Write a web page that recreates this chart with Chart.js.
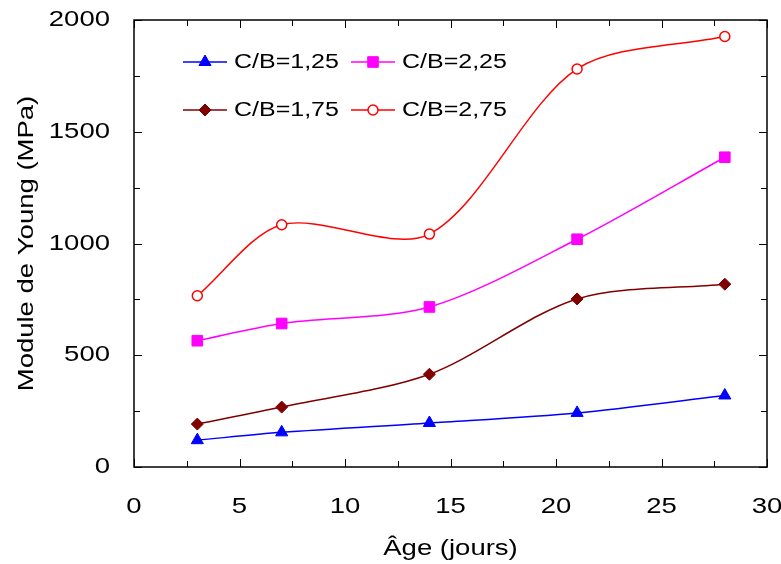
<!DOCTYPE html>
<html lang="fr">
  <head>
    <meta charset="UTF-8" />
    <title>Module de Young</title>
    <script src="https://cdn.jsdelivr.net/npm/chart.js@4.4.0/dist/chart.umd.min.js"></script>
    <style>
      body { margin: 0; background: #fff; }
      #wrap { width: 781px; height: 564px; }
    </style>
  </head>
  <body>
    <div id="wrap"><canvas id="chart" width="781" height="564"></canvas></div>

    <script>
      // ages (jours)
      const ages = [3, 7, 14, 21, 28];
      // module de Young (MPa) per C/B ratio
      const cb125 = [120, 155, 197, 242, 320];
      const cb175 = [192, 268, 415, 752, 818];
      const cb225 = [565, 642, 716, 1019, 1386];
      const cb275 = [766, 1084, 1042, 1781, 1926];

      const xTicks = [0, 5, 10, 15, 20, 25, 30];
      const yTicks = [0, 500, 1000, 1500, 2000];

      const FONT = '"Liberation Sans", Arial, sans-serif';
      const STRETCH = 1.25;

      function pts(vals) {
        return vals.map((v, i) => ({ x: ages[i], y: v }));
      }

      // text is wider than normal Arial in the original, so stretch it a bit
      function wideText(ctx, txt, x, y, align, size, rot) {
        ctx.save();
        ctx.translate(x, y);
        if (rot) ctx.rotate(rot);
        ctx.scale(STRETCH, 1);
        ctx.font = size + 'px ' + FONT;
        ctx.fillStyle = '#000';
        ctx.textAlign = align;
        ctx.textBaseline = 'middle';
        ctx.fillText(txt, 0, 0);
        ctx.restore();
      }

      function marker(ctx, style, x, y, r, color, fill, bw) {
        ctx.save();
        ctx.beginPath();
        if (style === 'triangle') {
          ctx.moveTo(x, y - r);
          ctx.lineTo(x + r * Math.sin(Math.PI * 2 / 3), y + r * 0.5);
          ctx.lineTo(x - r * Math.sin(Math.PI * 2 / 3), y + r * 0.5);
          ctx.closePath();
        } else if (style === 'rect') {
          const s = r * Math.SQRT1_2;
          ctx.rect(x - s, y - s, 2 * s, 2 * s);
        } else if (style === 'rectRot') {
          ctx.moveTo(x, y - r);
          ctx.lineTo(x + r, y);
          ctx.lineTo(x, y + r);
          ctx.lineTo(x - r, y);
          ctx.closePath();
        } else {
          ctx.arc(x, y, r, 0, Math.PI * 2);
        }
        ctx.fillStyle = fill;
        ctx.fill();
        ctx.lineWidth = bw;
        ctx.strokeStyle = color;
        ctx.stroke();
        ctx.restore();
      }

      const frame = {
        id: 'frame',
        beforeDatasetsDraw(chart) {
          const { ctx, chartArea: a, scales } = chart;
          ctx.save();
          ctx.strokeStyle = '#000';
          ctx.lineWidth = 1.5;
          ctx.strokeRect(a.left, a.top, a.right - a.left, a.bottom - a.top);
          ctx.lineWidth = 1;
          ctx.beginPath();
          for (let v = 0; v <= 30; v += 2.5) {
            const px = Math.round(scales.x.getPixelForValue(v)) + 0.5;
            const len = v % 5 === 0 ? 8 : 6;
            ctx.moveTo(px, a.bottom); ctx.lineTo(px, a.bottom - len);
            ctx.moveTo(px, a.top); ctx.lineTo(px, a.top + len);
          }
          for (let v = 0; v <= 2000; v += 250) {
            const py = Math.round(scales.y.getPixelForValue(v)) + 0.5;
            const len = v % 500 === 0 ? 8 : 6;
            ctx.moveTo(a.left, py); ctx.lineTo(a.left + len, py);
            ctx.moveTo(a.right, py); ctx.lineTo(a.right - len, py);
          }
          ctx.stroke();
          ctx.restore();
        },
        afterDraw(chart) {
          const { ctx, chartArea: a, scales } = chart;
          xTicks.forEach(v => wideText(ctx, String(v), scales.x.getPixelForValue(v), a.bottom + 40, 'center', 22));
          yTicks.forEach(v => wideText(ctx, String(v), a.left - 24, scales.y.getPixelForValue(v), 'right', 22));
          wideText(ctx, 'Âge (jours)', (a.left + a.right) / 2, 549, 'center', 22);
          wideText(ctx, 'Module de Young (MPa)', 27, (a.top + a.bottom) / 2, 'center', 22, -Math.PI / 2);

          // legend, 2 x 2 inside the plot
          const cols = [183, 351];
          const rows = [62, 110];
          chart.data.datasets.forEach((ds, i) => {
            const x0 = cols[i % 2], y0 = rows[Math.floor(i / 2)];
            ctx.save();
            ctx.strokeStyle = ds.borderColor;
            ctx.lineWidth = ds.borderWidth;
            ctx.beginPath();
            ctx.moveTo(x0, y0); ctx.lineTo(x0 + 44, y0);
            ctx.stroke();
            ctx.restore();
            marker(ctx, ds.pointStyle, x0 + 22, y0, ds.pointRadius, ds.pointBorderColor, ds.pointBackgroundColor, ds.pointBorderWidth);
            wideText(ctx, ds.label, x0 + 51, y0, 'left', 20);
          });
        }
      };

      function series(label, vals, color, style, r, fill) {
        return {
          label: label,
          data: pts(vals),
          borderColor: color,
          borderWidth: 1.5,
          tension: 0.3,
          pointStyle: style,
          pointRadius: r,
          pointHoverRadius: r,
          pointBorderColor: color,
          pointBackgroundColor: fill || color,
          pointBorderWidth: fill ? 1.5 : 1
        };
      }

      new Chart(document.getElementById('chart'), {
        type: 'line',
        data: {
          datasets: [
            series('C/B=1,25', cb125, '#0000ff', 'triangle', 7),
            series('C/B=2,25', cb225, '#ff00ff', 'rect', 7.5),
            series('C/B=1,75', cb175, '#800000', 'rectRot', 6),
            series('C/B=2,75', cb275, '#ff0000', 'circle', 5, '#ffffff')
          ]
        },
        options: {
          responsive: false,
          animation: false,
          layout: { padding: { left: 134, right: 14, top: 20, bottom: 97 } },
          plugins: { legend: { display: false }, tooltip: { enabled: false } },
          scales: {
            x: { type: 'linear', min: 0, max: 30, display: false },
            y: { type: 'linear', min: 0, max: 2000, display: false }
          }
        },
        plugins: [frame]
      });
    </script>
  </body>
</html>
